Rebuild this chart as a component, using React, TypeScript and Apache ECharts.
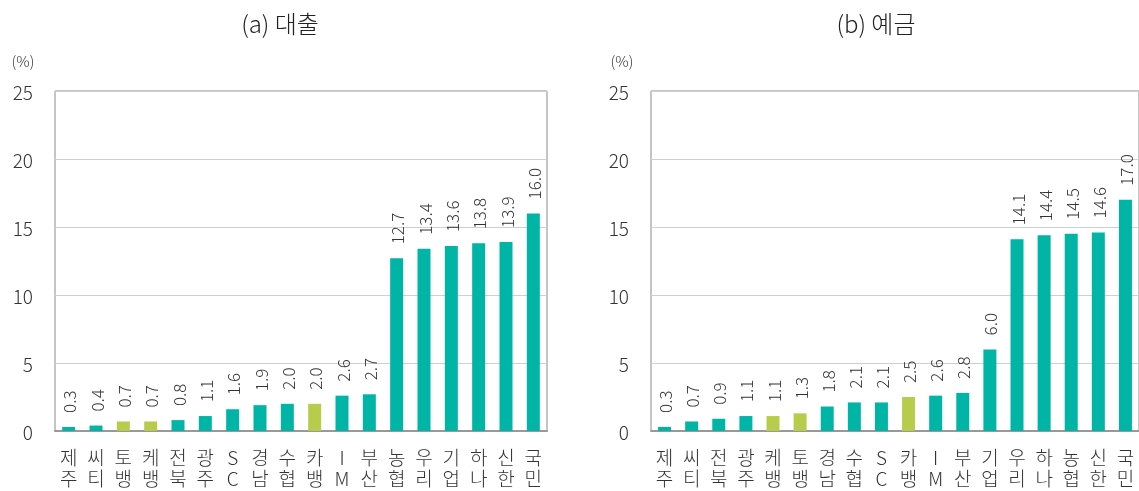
import React, { useEffect, useRef } from "react";
import * as echarts from "echarts";

const loanCategories = ["제주", "씨티", "토뱅", "케뱅", "전북", "광주", "SC", "경남", "수협", "카뱅", "IM", "부산", "농협", "우리", "기업", "하나", "신한", "국민"];
const loanValues = [0.3, 0.4, 0.7, 0.7, 0.8, 1.1, 1.6, 1.9, 2.0, 2.0, 2.6, 2.7, 12.7, 13.4, 13.6, 13.8, 13.9, 16.0];

const depositCategories = ["제주", "씨티", "전북", "광주", "케뱅", "토뱅", "경남", "수협", "SC", "카뱅", "IM", "부산", "기업", "우리", "하나", "농협", "신한", "국민"];
const depositValues = [0.3, 0.7, 0.9, 1.1, 1.1, 1.3, 1.8, 2.1, 2.1, 2.5, 2.6, 2.8, 6.0, 14.1, 14.4, 14.5, 14.6, 17.0];

const internetBanks = ["토뱅", "케뱅", "카뱅"];
const yTicks = [0, 5, 10, 15, 20, 25];
const titles = ["(a) 대출", "(b) 예금"];
const unitLabel = "(%)";

const TEAL = "#00B5A6";
const GREEN = "#B8CC4C";
const FONT = "'Noto Sans CJK KR', 'Noto Sans', sans-serif";

export default function App() {
  const ref = useRef<HTMLDivElement>(null);
  useEffect(() => {
    if (!ref.current) return;
    const chart = echarts.init(ref.current, undefined, { renderer: "svg" });
    const mkData = (cats: string[], vals: number[]) =>
      vals.map((v, i) => ({
        value: v,
        itemStyle: { color: internetBanks.includes(cats[i]) ? GREEN : TEAL },
      }));
    const grids = [
      { left: 55, width: 492, top: 91, bottom: 60 },
      { left: 651, width: 493, top: 91, bottom: 60 },
    ];
    const xAxis = [loanCategories, depositCategories].map((cats, i) => ({
      type: "category",
      gridIndex: i,
      data: cats,
      axisTick: { show: false },
      axisLine: { show: true, lineStyle: { color: "#999", width: 2 } },
      axisLabel: {
        interval: 0,
        margin: 15,
        fontFamily: FONT,
        fontWeight: 300,
        fontSize: 19,
        lineHeight: 21,
        color: "#333",
        formatter: (v: string) => v.split("").join("\n"),
      },
    }));
    const yAxis = [0, 1].map((i) => ({
      type: "value",
      gridIndex: i,
      min: 0,
      max: yTicks[yTicks.length - 1],
      interval: yTicks[1] - yTicks[0],
      axisLine: { show: false },
      axisTick: { show: false },
      splitLine: { show: true, lineStyle: { color: "#cfcfcf", width: 1 } },
      axisLabel: {
        margin: 22,
        fontFamily: FONT,
        fontWeight: 300,
        fontSize: 19,
        color: "#333",
      },
    }));
    const label = {
      show: true,
      position: "top",
      rotate: 90,
      align: "left",
      verticalAlign: "middle",
      distance: 14,
      fontFamily: FONT,
      fontWeight: 300,
      fontSize: 17,
      color: "#333",
      formatter: (p: any) => Number(p.value).toFixed(1),
    };
    chart.setOption({
      animation: false,
      grid: grids.map((g) => ({ ...g, show: true, borderColor: "#8a8a8a", borderWidth: 1, backgroundColor: "transparent" })),
      xAxis,
      yAxis,
      series: [
        { type: "bar", xAxisIndex: 0, yAxisIndex: 0, barWidth: 13, data: mkData(loanCategories, loanValues), label },
        { type: "bar", xAxisIndex: 1, yAxisIndex: 1, barWidth: 13, data: mkData(depositCategories, depositValues), label },
      ],
      graphic: [
        { type: "text", x: 280, y: 22, style: { text: titles[0], font: `300 24px ${FONT}`, fill: "#222", textAlign: "center", textVerticalAlign: "middle" } },
        { type: "text", x: 876, y: 22, style: { text: titles[1], font: `300 24px ${FONT}`, fill: "#222", textAlign: "center", textVerticalAlign: "middle" } },
        { type: "text", x: 23, y: 60, style: { text: unitLabel, font: `300 15px ${FONT}`, fill: "#333", textAlign: "center", textVerticalAlign: "middle" } },
        { type: "text", x: 622, y: 60, style: { text: unitLabel, font: `300 15px ${FONT}`, fill: "#333", textAlign: "center", textVerticalAlign: "middle" } },
      ],
    });
    return () => chart.dispose();
  }, []);
  return <div ref={ref} style={{ position: "fixed", left: 0, top: 0, width: 1139, height: 491 }} />;
}
